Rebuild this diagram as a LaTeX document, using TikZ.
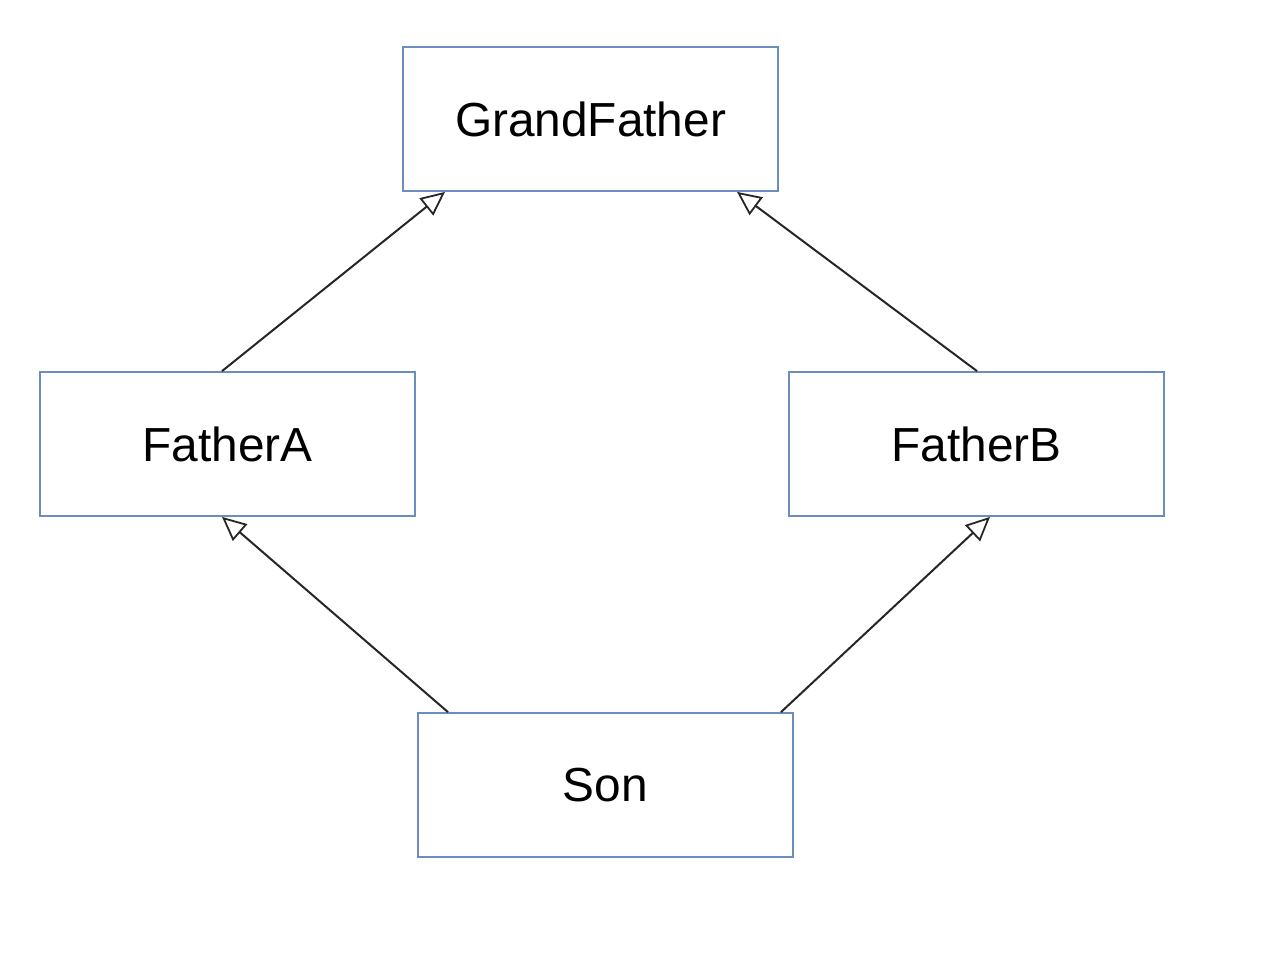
\documentclass[tikz,border=0pt]{standalone}
\usepackage{fontspec}
\setmainfont{Liberation Sans}
\usetikzlibrary{arrows.meta}
\definecolor{boxblue}{HTML}{6C8EBF}
\begin{document}
\begin{tikzpicture}[x=1pt,y=-1pt,
  cls/.style={draw=boxblue, line width=1.8pt, fill=white, minimum width=375pt, minimum height=144pt, inner sep=0pt, font=\fontsize{47.8}{54}\selectfont},
  inh/.style={draw=black!85, line width=2pt, -{Triangle[open, length=24pt, width=22pt, line width=1.8pt]}}]
\useasboundingbox (0,0) rectangle (1270,954);
\node[cls] (gf) at (590.5,119) {GrandFather};
\node[cls] (fa) at (227.5,444) {FatherA};
\node[cls] (fb) at (976.5,444) {FatherB};
\node[cls] (son) at (605.5,785) {Son};
\draw[inh] ([xshift=-5.5pt]fa.north) -- ([xshift=-145.5pt]gf.south);
\draw[inh] ([xshift=0.5pt]fb.north) -- ([xshift=146.5pt]gf.south);
\draw[inh] ([xshift=-157.5pt]son.north) -- ([xshift=-5.5pt]fa.south);
\draw[inh] ([xshift=175.5pt]son.north) -- ([xshift=13.5pt]fb.south);
\end{tikzpicture}
\end{document}
